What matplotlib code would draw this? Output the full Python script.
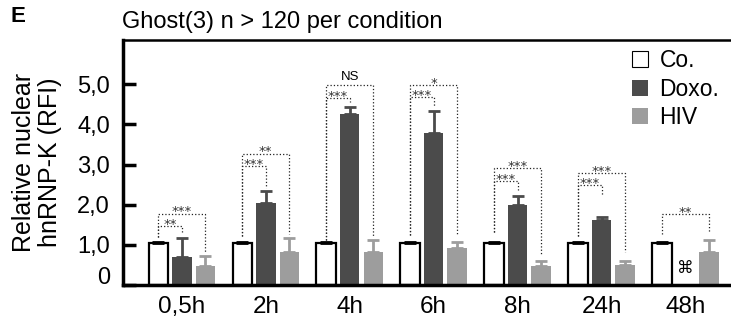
import matplotlib
matplotlib.use("Agg")
import matplotlib.pyplot as plt
from matplotlib.patches import Patch
from matplotlib.transforms import ScaledTranslation
import numpy as np

plt.rcParams['font.family'] = ['Liberation Sans', 'DejaVu Sans']

times = ['0,5h', '2h', '4h', '6h', '8h', '24h', '48h']
co = [1.05, 1.05, 1.05, 1.05, 1.05, 1.05, 1.05]
co_err = [0.03, 0.03, 0.03, 0.03, 0.03, 0.03, 0.03]
doxo = [0.69, 2.04, 4.25, 3.78, 1.98, 1.61, np.nan]
doxo_err = [0.48, 0.31, 0.18, 0.55, 0.24, 0.09, np.nan]
hiv = [0.48, 0.83, 0.83, 0.91, 0.47, 0.51, 0.82]
hiv_err = [0.23, 0.33, 0.29, 0.17, 0.12, 0.08, 0.30]

# significance brackets: group, target (1=Doxo, 2=HIV), height, left foot, right foot, label
br_group = [0, 0, 1, 1, 2, 2, 3, 3, 4, 4, 5, 5, 6]
br_target = [1, 2, 1, 2, 1, 2, 1, 2, 1, 2, 1, 2, 2]
br_height = [1.46, 1.78, 2.97, 3.27, 4.65, 4.98, 4.68, 4.98, 2.58, 2.92, 2.48, 2.79, 1.77]
br_left = [1.20, 1.20, 1.21, 1.21, 1.12, 1.12, 1.25, 1.25, 1.33, 1.33, 1.23, 1.23, 1.27]
br_right = [1.27, 0.83, 2.42, 1.27, 4.55, 1.20, 4.46, 1.25, 2.36, 0.78, 2.25, 0.81, 1.31]
br_label = ['**', '***', '***', '**', '***', 'NS', '***', '*', '***', '***', '***', '***', '**']

c_doxo = '#4b4b4b'
c_hiv = '#9d9d9d'

fig = plt.figure(figsize=(7.31, 3.22), dpi=100)
ax = fig.add_axes([123/731, 1 - 285/322, 1 - 123/731, 245/322])

x = np.arange(len(times))
off = 0.28
w = 0.232

ax.bar(x - off, co, w, color='white', edgecolor='black', linewidth=1.6, zorder=2)
ax.errorbar(x - off, co, yerr=[np.zeros(7), co_err], fmt='none', ecolor='black',
            elinewidth=2, capsize=4.5, capthick=2, zorder=3)
ax.bar(x, doxo, w, color=c_doxo, zorder=2)
ax.errorbar(x, doxo, yerr=[np.zeros(7), doxo_err], fmt='none', ecolor=c_doxo,
            elinewidth=2, capsize=4.5, capthick=2, zorder=1)
ax.bar(x + off, hiv, w, color=c_hiv, zorder=2)
ax.errorbar(x + off, hiv, yerr=[np.zeros(7), hiv_err], fmt='none', ecolor=c_hiv,
            elinewidth=2, capsize=4.5, capthick=2, zorder=1)

# missing Doxo at 48h
ax.text(x[6], 0.42, '\u2318', ha='center', va='center', fontsize=12,
        family=['DejaVu Sans'])

for g, t, h, yl, yr, lab in zip(br_group, br_target, br_height, br_left, br_right, br_label):
    x0 = x[g] - off
    x1 = x[g] + (t - 1) * off
    ax.plot([x0, x0, x1, x1], [yl, h, h, yr], ls=':', lw=0.9, color='#222222', zorder=4)
    if lab == 'NS':
        ax.text((x0 + x1) / 2, h + 0.05, lab, ha='center', va='bottom', fontsize=9.5)
    else:
        ax.text((x0 + x1) / 2, h - 0.12, lab, ha='center', va='bottom', fontsize=9.5,
                color='#333333', family=['DejaVu Sans'])

ax.set_xlim(-0.70, 6.54)
ax.set_ylim(0, 6.1)
ax.set_yticks([0, 1, 2, 3, 4, 5])
ax.set_yticklabels(['0', '1,0', '2,0', '3,0', '4,0', '5,0'])
ax.set_xticks(x)
ax.set_xticklabels(times)
ax.tick_params(axis='y', direction='in', length=9, width=2.5, pad=9.5, labelsize=17)
ax.tick_params(axis='x', length=0, pad=8, labelsize=17.5)
ax.spines['right'].set_visible(False)
ax.spines['left'].set_linewidth(2.5)
ax.spines['bottom'].set_linewidth(2.5)
ax.spines['top'].set_linewidth(1.8)

# lift the "0" label a little off the baseline, like the original
lab0 = ax.get_yticklabels()[0]
lab0.set_transform(lab0.get_transform() + ScaledTranslation(0, 0.09, fig.dpi_scale_trans))

fig.text(37/731, 1 - 162/322, 'Relative nuclear\nhnRNP-K (RFI)', rotation=90,
         ha='center', va='center', fontsize=18, linespacing=1.1, multialignment='center')
fig.text(122/731, 1 - 22/322, 'Ghost(3) n > 120 per condition', ha='left', va='center',
         fontsize=17)
fig.text(11/731, 1 - 17/322, 'E', ha='left', va='center', fontsize=16, fontweight='bold')

handles = [Patch(facecolor='white', edgecolor='black', linewidth=0.8, label='Co.'),
           Patch(facecolor=c_doxo, label='Doxo.'),
           Patch(facecolor=c_hiv, label='HIV')]
fig.legend(handles=handles, loc='upper left', bbox_to_anchor=(632/731, 1 - 49/322),
           bbox_transform=fig.transFigure, frameon=False, fontsize=16.5,
           handlelength=0.7, handleheight=0.7, handletextpad=0.5,
           labelspacing=0.25, borderpad=0, borderaxespad=0)

fig.savefig('out.png', dpi=100)
